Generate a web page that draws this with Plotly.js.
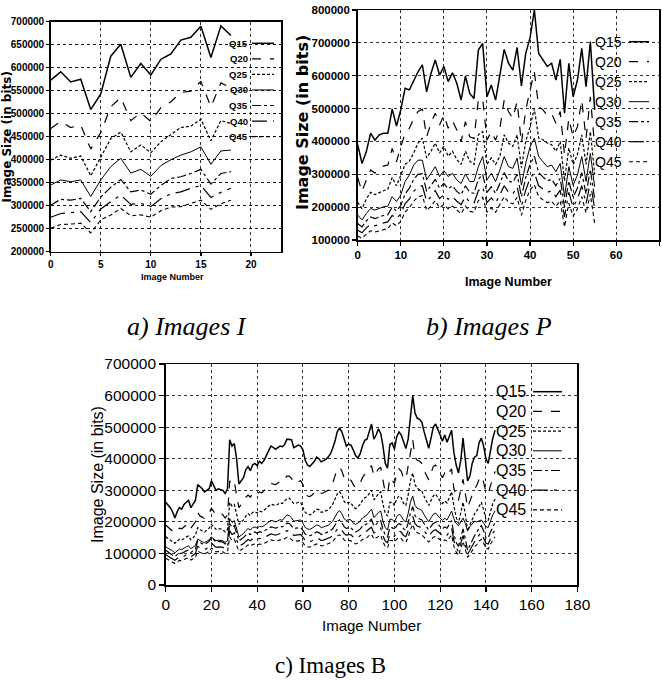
<!DOCTYPE html>
<html>
<head>
<meta charset="utf-8">
<script src="https://cdn.plot.ly/plotly-3.0.1.min.js"></script>
<style>html,body{margin:0;padding:0;background:#fff;}#chart{width:662px;height:682px;}</style>
</head>
<body>
<div id="chart"></div>
<script>
// ---------- DATA ----------
const seriesNames = ['Q15','Q20','Q25','Q30','Q35','Q40','Q45'];

// a) Images I  (image numbers 0..18)
const q15_I = [573000,591000,569000,575000,509000,543000,625000,651000,579000,609000,584000,618000,630000,660000,666000,690000,622000,691000,670000];
const q20_I = [468000,483000,470000,475000,423000,459000,515000,535000,485000,502000,483000,513000,526000,546000,549000,570000,515000,567000,556000];
const q25_I = [399000,410000,403000,408000,365000,406000,446000,460000,417000,432000,415000,439000,454000,470000,473000,488000,441000,485000,479000];
const q30_I = [345000,356000,352000,356000,320000,356000,385000,403000,371000,379000,364000,387000,400000,410000,417000,428000,390000,419000,421000];
const q35_I = [301000,314000,312000,316000,287000,319000,340000,357000,330000,334000,325000,344000,359000,363000,370000,379000,347000,370000,374000];
const q40_I = [275000,283000,285000,287000,263000,293000,309000,323000,303000,305000,298000,315000,326000,330000,338000,344000,318000,329000,338000];
const q45_I = [251000,259000,260000,262000,241000,269000,280000,294000,278000,280000,275000,289000,297000,298000,305000,312000,292000,304000,312000];

// b) Images P  (image numbers 0..55)
const q15_P = [390000,333000,369000,425000,404000,420000,425000,425000,499000,447000,
  496000,562000,557000,587000,612000,633000,551000,607000,648000,602000,
  628000,582000,609000,577000,526000,599000,546000,531000,678000,698000,
  536000,572000,526000,602000,680000,638000,617000,686000,569000,668000,
  715000,800000,668000,648000,628000,638000,587000,650000,486000,638000,
  536000,587000,683000,567000,704000,496000];
const q20_P = [290000,247000,283000,313000,303000,318000,325000,328000,379000,338000,
  384000,425000,440000,470000,491000,498000,414000,455000,486000,450000,
  480000,440000,463000,435000,399000,460000,414000,409000,526000,531000,
  404000,430000,404000,440000,526000,491000,470000,521000,394000,496000,
  556000,612000,506000,496000,480000,486000,455000,491000,359000,470000,
  414000,445000,526000,409000,536000,384000];
const q25_P = [215000,195000,225000,245000,238000,245000,250000,255000,290000,265000,
  295000,330000,340000,365000,395000,410000,350000,370000,395000,365000,
  385000,355000,370000,345000,330000,370000,340000,330000,420000,430000,
  330000,350000,330000,355000,420000,395000,385000,420000,320000,400000,
  445000,500000,410000,405000,395000,390000,370000,400000,280000,380000,
  330000,360000,420000,330000,430000,300000];
const q30_P = [176000,161000,181000,196000,191000,196000,201000,203000,232000,217000,
  237000,278000,298000,328000,343000,343000,283000,303000,323000,293000,
  311000,293000,303000,283000,272000,301000,278000,278000,323000,354000,
  283000,303000,278000,313000,354000,323000,318000,349000,267000,333000,
  384000,410000,354000,338000,323000,328000,308000,333000,232000,323000,
  267000,298000,354000,278000,364000,262000];
const q35_P = [150000,140000,158000,170000,165000,170000,175000,177000,200000,188000,
  205000,240000,258000,285000,300000,302000,248000,265000,285000,258000,
  272000,256000,265000,248000,238000,265000,245000,242000,285000,300000,
  245000,262000,242000,272000,305000,280000,275000,300000,232000,290000,
  330000,355000,305000,292000,280000,285000,265000,288000,200000,280000,
  230000,258000,305000,240000,315000,225000];
const q40_P = [130000,122000,137000,148000,143000,148000,152000,155000,175000,165000,
  180000,210000,225000,248000,262000,265000,218000,232000,250000,226000,
  238000,224000,232000,218000,208000,232000,214000,212000,250000,262000,
  214000,228000,212000,238000,265000,245000,240000,262000,202000,252000,
  288000,305000,265000,255000,245000,250000,232000,252000,170000,245000,
  200000,225000,265000,210000,275000,195000];
const q45_P = [112000,105000,118000,128000,124000,128000,132000,135000,152000,143000,
  157000,185000,198000,218000,232000,235000,190000,203000,220000,198000,
  208000,195000,203000,190000,180000,203000,187000,185000,220000,230000,
  185000,198000,184000,208000,232000,215000,210000,230000,175000,220000,
  252000,268000,232000,222000,214000,218000,202000,220000,140000,212000,
  172000,195000,232000,182000,240000,150000];

// c) Images B  (image numbers 0..144)
const q15_B = [262000,255000,245000,232000,212000,232000,245000,240000,255000,262000,
  268000,245000,258000,268000,318000,312000,305000,295000,300000,305000,
  330000,315000,300000,305000,302000,300000,290000,305000,460000,440000,
  448000,400000,320000,330000,340000,365000,375000,362000,380000,385000,
  378000,392000,385000,395000,410000,425000,440000,436000,430000,435000,
  440000,438000,445000,462000,462000,460000,435000,440000,443000,440000,
  428000,395000,380000,375000,382000,392000,405000,400000,390000,393000,
  398000,405000,415000,433000,455000,485000,498000,485000,460000,440000,
  446000,443000,428000,410000,402000,415000,440000,458000,462000,490000,
  510000,462000,475000,495000,480000,440000,385000,370000,445000,450000,
  430000,470000,485000,475000,450000,432000,462000,525000,600000,545000,
  528000,525000,515000,485000,455000,433000,465000,500000,510000,495000,
  475000,455000,475000,452000,470000,490000,420000,380000,355000,395000,
  465000,400000,330000,345000,385000,405000,410000,450000,465000,440000,
  400000,385000,425000,465000,490000];
const q20_B = [190000,183000,176000,170000,164000,172000,180000,178000,185000,192000,
  196000,180000,190000,200000,230000,218000,215000,210000,218000,228000,
  243000,232000,222000,226000,228000,222000,212000,222000,330000,320000,
  328000,285000,245000,255000,262000,278000,285000,278000,290000,292000,
  286000,295000,292000,298000,306000,315000,322000,320000,318000,322000,
  330000,328000,335000,345000,345000,338000,322000,325000,328000,330000,
  318000,290000,282000,280000,285000,292000,300000,298000,290000,292000,
  296000,300000,310000,322000,345000,368000,372000,362000,340000,328000,
  333000,332000,318000,308000,315000,322000,340000,350000,355000,370000,
  378000,345000,355000,368000,372000,325000,292000,290000,340000,332000,
  322000,350000,368000,360000,338000,335000,375000,420000,460000,405000,
  395000,392000,385000,362000,345000,333000,355000,375000,380000,365000,
  355000,340000,355000,345000,358000,368000,305000,280000,268000,300000,
  335000,290000,245000,265000,285000,305000,315000,335000,345000,325000,
  295000,288000,315000,340000,360000];
const q25_B = [153000,148000,142000,137000,132000,138000,145000,142000,148000,152000,
  155000,143000,150000,158000,182000,175000,172000,168000,174000,180000,
  192000,184000,176000,178000,178000,175000,168000,176000,262000,250000,
  255000,225000,192000,200000,206000,218000,226000,220000,230000,232000,
  228000,234000,232000,237000,243000,250000,256000,254000,252000,255000,
  260000,258000,265000,274000,275000,268000,258000,259000,262000,262000,
  248000,230000,225000,222000,226000,232000,240000,238000,230000,232000,
  236000,238000,246000,255000,272000,288000,296000,285000,265000,258000,
  262000,260000,248000,242000,248000,255000,268000,276000,280000,292000,
  300000,270000,278000,290000,295000,255000,228000,218000,262000,262000,
  252000,272000,282000,276000,258000,252000,285000,330000,355000,318000,
  306000,302000,298000,280000,266000,252000,268000,282000,288000,276000,
  266000,258000,266000,260000,278000,295000,250000,215000,195000,235000,
  262000,225000,170000,190000,210000,225000,235000,248000,262000,238000,
  208000,205000,235000,258000,272000];
const q30_B = [121000,117000,112000,108000,102000,108000,114000,112000,118000,121000,
  124000,115000,120000,126000,145000,140000,137000,134000,139000,143000,
  152000,146000,140000,142000,142000,140000,135000,140000,210000,198000,
  204000,180000,152000,158000,163000,172000,179000,174000,182000,184000,
  180000,186000,184000,188000,194000,199000,205000,203000,200000,203000,
  207000,205000,212000,222000,220000,213000,202000,204000,206000,206000,
  196000,182000,178000,176000,180000,184000,190000,188000,182000,184000,
  187000,189000,195000,202000,215000,228000,236000,226000,210000,204000,
  208000,206000,196000,192000,196000,202000,212000,218000,222000,232000,
  240000,214000,220000,230000,234000,202000,182000,174000,208000,208000,
  200000,216000,224000,219000,205000,200000,226000,262000,282000,252000,
  243000,240000,236000,222000,211000,200000,213000,224000,228000,219000,
  211000,205000,211000,206000,220000,234000,210000,195000,188000,200000,
  212000,195000,172000,185000,195000,202000,200000,204000,206000,196000,
  185000,182000,205000,222000,235000];
const q35_B = [110000,104000,98000,94000,90000,96000,102000,100000,105000,108000,
  111000,103000,108000,114000,140000,134000,131000,128000,133000,138000,
  152000,144000,136000,138000,138000,136000,130000,136000,195000,182000,
  188000,165000,140000,145000,150000,158000,164000,160000,166000,168000,
  164000,169000,167000,171000,175000,179000,184000,182000,180000,182000,
  186000,184000,189000,196000,195000,188000,179000,180000,182000,182000,
  173000,161000,157000,156000,159000,163000,168000,166000,160000,162000,
  165000,167000,172000,178000,190000,201000,206000,198000,185000,179000,
  182000,181000,173000,168000,172000,177000,186000,191000,194000,202000,
  208000,187000,192000,200000,204000,176000,158000,152000,182000,182000,
  175000,188000,195000,190000,178000,174000,196000,228000,248000,220000,
  212000,209000,206000,194000,184000,175000,186000,195000,199000,191000,
  184000,178000,184000,180000,192000,204000,160000,135000,122000,150000,
  178000,145000,110000,125000,142000,156000,166000,180000,188000,172000,
  150000,148000,168000,186000,198000];
const q40_B = [96000,91000,86000,82000,78000,84000,89000,87000,92000,95000,
  97000,90000,94000,100000,123000,117000,115000,112000,116000,121000,
  133000,126000,119000,121000,121000,119000,114000,119000,172000,160000,
  165000,145000,122000,127000,131000,138000,144000,140000,146000,148000,
  144000,148000,147000,150000,154000,158000,162000,160000,158000,160000,
  163000,162000,166000,172000,171000,165000,157000,158000,160000,160000,
  152000,141000,138000,137000,140000,143000,148000,146000,141000,142000,
  145000,147000,151000,156000,167000,177000,181000,174000,163000,157000,
  160000,159000,152000,148000,151000,156000,164000,168000,171000,178000,
  183000,165000,169000,176000,180000,155000,139000,134000,160000,160000,
  154000,165000,172000,167000,157000,153000,172000,200000,218000,194000,
  187000,184000,181000,171000,162000,154000,164000,172000,175000,168000,
  162000,157000,162000,158000,169000,180000,140000,118000,106000,132000,
  157000,127000,98000,110000,125000,137000,146000,158000,165000,151000,
  132000,130000,148000,164000,174000];
const q45_B = [85000,80000,76000,72000,68000,74000,78000,77000,81000,84000,
  86000,79000,83000,88000,108000,103000,101000,99000,102000,106000,
  117000,111000,105000,106000,106000,105000,100000,105000,152000,141000,
  145000,128000,107000,112000,115000,121000,127000,123000,128000,130000,
  127000,130000,129000,132000,136000,139000,143000,141000,139000,141000,
  143000,142000,146000,151000,150000,145000,138000,139000,141000,141000,
  134000,124000,121000,120000,123000,126000,130000,128000,124000,125000,
  128000,129000,133000,137000,147000,156000,159000,153000,143000,138000,
  141000,140000,134000,130000,133000,137000,144000,148000,150000,157000,
  161000,145000,149000,155000,158000,136000,122000,118000,141000,141000,
  136000,145000,151000,147000,138000,135000,151000,176000,192000,171000,
  165000,162000,159000,150000,143000,136000,144000,151000,154000,148000,
  143000,138000,143000,139000,149000,158000,123000,104000,94000,116000,
  138000,112000,88000,97000,110000,121000,128000,139000,145000,133000,
  116000,114000,130000,144000,153000];

// ---------- STYLE ----------
const W = 662, H = 682;
const PX = x => x / W;
const PY = y => 1 - y / H;
const lineDash  = ['solid','dash','3px,2px','solid','dashdot','longdashdot','4px,3px'];
const lineWidth = [1.5, 1.2, 1.2, 1.0, 1.2, 1.2, 1.1];
const SANS = '"Liberation Sans", Arial, sans-serif';
const DJ = '"DejaVu Sans", sans-serif';
const SERIF = '"Liberation Serif", "Times New Roman", serif';

const panels = [
  {xa:'x',  ya:'y',  data:[q15_I,q20_I,q25_I,q30_I,q35_I,q40_I,q45_I]},
  {xa:'x2', ya:'y2', data:[q15_P,q20_P,q25_P,q30_P,q35_P,q40_P,q45_P]},
  {xa:'x3', ya:'y3', data:[q15_B,q20_B,q25_B,q30_B,q35_B,q40_B,q45_B]}
];

const traces = [];
panels.forEach(p => {
  p.data.forEach((ys, i) => {
    traces.push({
      type:'scatter', mode:'lines', name:seriesNames[i],
      x0:0, dx:1, y:ys, xaxis:p.xa, yaxis:p.ya,
      line:{color:'#000', width:lineWidth[i], dash:lineDash[i]},
      showlegend:false, hoverinfo:'skip'
    });
  });
});

function axisBase(fontFam, fontSize, weight, tlen, gcol) {
  return {
    showline:true, mirror:true, linecolor:'#000', linewidth:1.5,
    ticks:'outside', ticklen:tlen, tickwidth:1.2, tickcolor:'#000',
    showgrid:true, gridcolor:gcol, griddash:'dot', gridwidth:1,
    zeroline:false, tickformat:'d',
    tickfont:{family:fontFam, size:fontSize, color:'#000', weight:weight},
    fixedrange:true
  };
}

const layout = {
  width:W, height:H,
  margin:{l:0, r:0, t:0, b:0},
  paper_bgcolor:'#fff', plot_bgcolor:'#fff',
  showlegend:false,
  xaxis:  Object.assign(axisBase(SANS,10,'bold',3,'#333'), {domain:[PX(50.7),PX(281)],   range:[0,23],  dtick:5, anchor:'y'}),
  yaxis:  Object.assign(axisBase(SANS,10,'bold',3,'#111'), {domain:[PY(251.7),PY(21.7)], range:[200000,700000], dtick:50000, anchor:'x'}),
  xaxis2: Object.assign(axisBase(SANS,11.5,'bold',4,'#333'), {domain:[PX(357.7),PX(659.3)], range:[0,70], dtick:10, anchor:'y2'}),
  yaxis2: Object.assign(axisBase(SANS,11.5,'bold',4,'#333'), {domain:[PY(240),PY(10)],     range:[100000,800000], dtick:100000, anchor:'x2'}),
  xaxis3: Object.assign(axisBase(SANS,15.5,'normal',5,'#333'), {domain:[PX(165.7),PX(577.4)], range:[0,180], dtick:20, anchor:'y3'}),
  yaxis3: Object.assign(axisBase(SANS,15.5,'normal',5,'#333'), {domain:[PY(585),PY(364)],    range:[0,700000], dtick:100000, anchor:'x3'}),
  annotations:[], shapes:[]
};

// axis titles & captions
const ann = layout.annotations;
function text(t, x, y, font, opts) {
  ann.push(Object.assign({text:t, x:PX(x), y:PY(y), xref:'paper', yref:'paper',
    showarrow:false, xanchor:'center', yanchor:'middle', font:font}, opts||{}));
}
text('Image Number', 172, 277, {family:SANS, size:9, weight:'bold', color:'#000'});
text('Image Size (in bits)', 6.5, 137, {family:DJ, size:12, weight:'bold', color:'#000'}, {textangle:-90});
text('Image Number', 508, 282, {family:SANS, size:12.5, weight:'bold', color:'#000'});
text('Image Size (in bits)', 302, 123, {family:DJ, size:16, weight:'bold', color:'#000'}, {textangle:-90});
text('Image Number', 371, 625, {family:SANS, size:15, color:'#000'});
text('Image Size (in bits)', 97, 475, {family:SANS, size:16, color:'#000'}, {textangle:-90});
text('a) Images I', 187, 326, {family:SERIF, size:26, style:'italic', color:'#000'});
text('b) Images P', 489, 326, {family:SERIF, size:26, style:'italic', color:'#000'});
text('c) Images B', 330, 665, {family:SERIF, size:23, color:'#000'});

// legends (label on the left, sample line on the right)
const legends = [
  {textRight:250, lineX0:252, lineX1:274, y0:43.3, step:15.55, font:{family:SANS, size:9.5, weight:'bold', color:'#000'}},
  {textRight:624, lineX0:629, lineX1:649, y0:41.7, step:20.0,  font:{family:SANS, size:14, color:'#000'}},
  {textRight:528, lineX0:533, lineX1:562, y0:391.7, step:19.7, font:{family:SANS, size:16, color:'#000'}}
];
legends.forEach(L => {
  seriesNames.forEach((nm, i) => {
    const yy = L.y0 + i * L.step;
    text(nm, L.textRight, yy, L.font, {xanchor:'right'});
    layout.shapes.push({type:'line', xref:'paper', yref:'paper',
      x0:PX(L.lineX0), x1:PX(L.lineX1), y0:PY(yy), y1:PY(yy),
      line:{color:'#000', width:lineWidth[i], dash:lineDash[i]}});
  });
});

Plotly.newPlot('chart', traces, layout, {staticPlot:true, displayModeBar:false});
</script>
</body>
</html>
